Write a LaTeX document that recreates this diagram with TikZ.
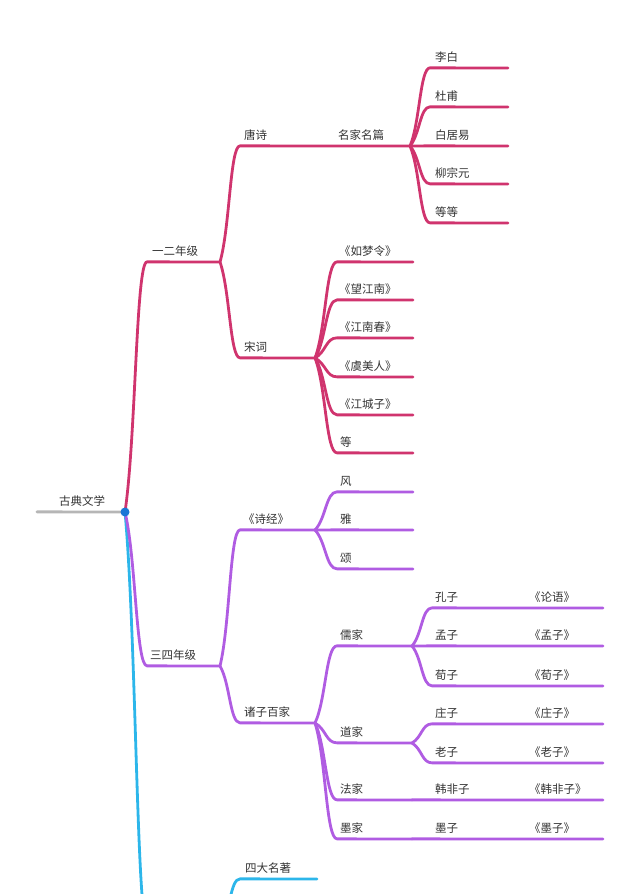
\documentclass[tikz,border=0pt]{standalone}
\usepackage{fontspec}
\setmainfont{Noto Sans CJK SC}
\usetikzlibrary{calc}
\definecolor{cred}{RGB}{208,52,110}
\definecolor{cpur}{RGB}{176,92,226}
\definecolor{cblu}{RGB}{44,182,234}
\definecolor{cdot}{RGB}{26,118,214}
\definecolor{cgray}{RGB}{182,182,182}
\definecolor{ctxt}{RGB}{51,51,51}
\tikzset{
  conn/.style={line width=2.8pt, line cap=round, line join=round},
  lbl/.style={anchor=base west, inner sep=0pt, text=ctxt, font=\fontsize{11.5}{13}\selectfont},
  branch/.style={to path={let \p1=(\tikztostart), \p2=(\tikztotarget) in
      .. controls ({\x1+0.5*(\x2-\x1)},{\y1+0.3*(\y2-\y1)}) and ({\x1+0.5*(\x2-\x1)},{\y2}) .. (\tikztotarget) \tikztonodes}}
}
\newcommand\topic[6]{%
  \coordinate (#1s) at (#2,-#4+0.15);
  \coordinate (#1e) at (#3,-#4);
  \node[lbl] (#1) at (#5,-#4+7) {#6};}
\begin{document}
\begin{tikzpicture}[x=1pt,y=1pt]
\useasboundingbox (0,0) rectangle (640,-894);
\clip (0,0) rectangle (640,-894);
% topics
\topic{root}{37}{125}{512}{59}{古典文学}
\topic{ga}{147}{220}{262}{152}{一二年级}
\topic{ts}{240}{333}{146}{244}{唐诗}
\topic{mj}{333}{410}{146}{338}{名家名篇}
\topic{lb}{430}{508}{68}{435}{李白}
\topic{df}{430}{508}{107}{435}{杜甫}
\topic{bj}{430}{508}{146}{435}{白居易}
\topic{lz}{430}{508}{184}{435}{柳宗元}
\topic{dd}{430}{508}{223}{435}{等等}
\topic{sc}{240}{315}{358}{244}{宋词}
\topic{rm}{337}{413}{262}{339}{《如梦令》}
\topic{wj}{337}{413}{300}{339}{《望江南》}
\topic{jn}{337}{413}{338}{339}{《江南春》}
\topic{ym}{337}{413}{377}{339}{《虞美人》}
\topic{jc}{337}{413}{415}{339}{《江城子》}
\topic{dg}{337}{413}{453}{340}{等}
\topic{gb}{147}{220}{666}{150}{三四年级}
\topic{sj}{240}{315}{530}{243}{《诗经》}
\topic{feng}{337}{413}{492}{340}{风}
\topic{ya}{337}{413}{530}{340}{雅}
\topic{song}{337}{413}{569}{340}{颂}
\topic{zz}{240}{315}{723}{244}{诸子百家}
\topic{rj}{337}{412}{646}{340}{儒家}
\topic{kz}{432}{520}{608}{435}{孔子}
\topic{ly}{520}{603}{608}{529}{《论语》}
\topic{mz}{432}{520}{646}{435}{孟子}
\topic{mzb}{520}{603}{646}{529}{《孟子》}
\topic{xz}{432}{520}{686}{435}{荀子}
\topic{xzb}{520}{603}{686}{529}{《荀子》}
\topic{dj}{337}{412}{743}{340}{道家}
\topic{zhz}{432}{520}{724}{435}{庄子}
\topic{zhzb}{520}{603}{724}{529}{《庄子》}
\topic{lzi}{432}{520}{763}{435}{老子}
\topic{lzb}{520}{603}{763}{529}{《老子》}
\topic{fj}{337}{412}{800}{340}{法家}
\topic{hf}{412}{520}{800}{435}{韩非子}
\topic{hfb}{520}{603}{800}{529}{《韩非子》}
\topic{mjia}{337}{412}{839}{340}{墨家}
\topic{mo}{412}{520}{839}{435}{墨子}
\topic{mob}{520}{603}{839}{529}{《墨子》}
\topic{sd}{240}{317}{879}{245}{四大名著}
\coordinate (wls) at (148,-930);
\coordinate (wle) at (220,-930);
% blue branch
\draw[conn,cblu] (roote) to[branch] (wls) -- (wle);
\draw[conn,cblu] (wle) to[branch] (sds) -- (sde);
% purple branch
\draw[conn,cpur] (roote) to[branch] (gbs) -- (gbe);
\draw[conn,cpur] (gbe) to[branch] (sjs) -- (sje);
\draw[conn,cpur] (gbe) to[branch] (zzs) -- (zze);
\foreach \nm in {feng,ya,song} \draw[conn,cpur] (sje) to[branch] (\nm s) -- (\nm e);
\foreach \nm in {rj,dj,fj,mjia} \draw[conn,cpur] (zze) to[branch] (\nm s) -- (\nm e);
\foreach \nm/\bk in {kz/ly,mz/mzb,xz/xzb} \draw[conn,cpur] (rje) to[branch] (\nm s) -- (\nm e) -- (\bk e);
\foreach \nm/\bk in {zhz/zhzb,lzi/lzb} \draw[conn,cpur] (dje) to[branch] (\nm s) -- (\nm e) -- (\bk e);
\draw[conn,cpur] (fje) -- (hfs) -- (hfe) -- (hfbe);
\draw[conn,cpur] (mjiae) -- (mos) -- (moe) -- (mobe);
% red branch
\draw[conn,cred] (roote) to[branch] (gas) -- (gae);
\draw[conn,cred] (gae) to[branch] (tss) -- (tse) -- (mje);
\draw[conn,cred] (gae) to[branch] (scs) -- (sce);
\foreach \nm in {lb,df,bj,lz,dd} \draw[conn,cred] (mje) to[branch] (\nm s) -- (\nm e);
\foreach \nm in {rm,wj,jn,ym,jc,dg} \draw[conn,cred] (sce) to[branch] (\nm s) -- (\nm e);
% root
\draw[conn,cgray] (roots) -- (roote);
\fill[cdot] (roote) circle (4.5pt);
\end{tikzpicture}
\end{document}
